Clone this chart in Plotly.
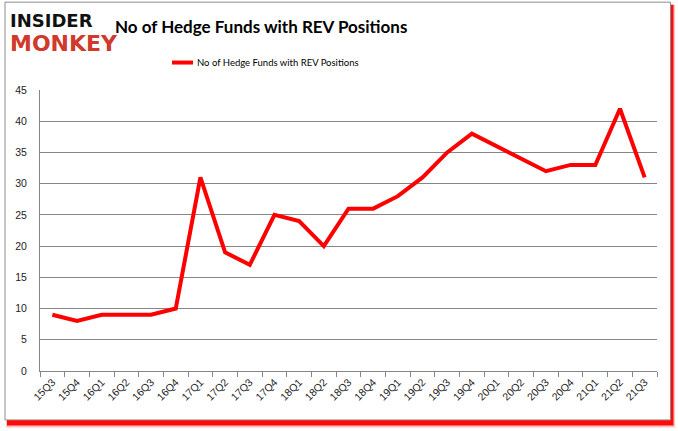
import plotly.graph_objects as go

quarters = ["15Q3","15Q4","16Q1","16Q2","16Q3","16Q4","17Q1","17Q2","17Q3","17Q4",
            "18Q1","18Q2","18Q3","18Q4","19Q1","19Q2","19Q3","19Q4","20Q1","20Q2",
            "20Q3","20Q4","21Q1","21Q2","21Q3"]
funds = [9, 8, 9, 9, 9, 10, 31, 19, 17, 25, 24, 20, 26, 26, 28, 31, 35, 38, 36, 34,
         32, 33, 33, 42, 31]
y_ticks = [0, 5, 10, 15, 20, 25, 30, 35, 40, 45]

series_name = "No of Hedge Funds with REV Positions"
title_text = "No of Hedge Funds with REV Positions"

# plot area in pixels
L, R, T, B = 40, 657, 89.5, 371
W, H = 678, 431

def px(x):
    return (x - L) / (R - L)

def py(y):
    return (B - y) / (B - T)

fig = go.Figure()
fig.add_trace(go.Scatter(
    x=quarters, y=funds, mode="lines", name=series_name,
    line=dict(color="#ff0000", width=4), showlegend=False,
))

shapes = [
    # soft red shadow (outer, faint)
    dict(type="rect", xref="paper", yref="paper", layer="below",
         x0=px(6), x1=px(675), y0=py(4), y1=py(427.5),
         fillcolor="rgba(255,80,80,0.35)", line=dict(width=0)),
    # red shadow (core)
    dict(type="rect", xref="paper", yref="paper", layer="below",
         x0=px(7), x1=px(673.5), y0=py(4), y1=py(425.5),
         fillcolor="rgba(255,0,0,0.95)", line=dict(width=0)),
    # chart frame
    dict(type="rect", xref="paper", yref="paper", layer="below",
         x0=px(5), x1=px(670.5), y0=py(1.5), y1=py(420),
         fillcolor="white", line=dict(color="#8c8c8c", width=1)),
    # legend sample
    dict(type="line", xref="paper", yref="paper",
         x0=px(172), x1=px(193), y0=py(62), y1=py(62),
         line=dict(color="#ff0000", width=4)),
]

annotations = [
    dict(text="<b>INSIDER</b>", xref="paper", yref="paper", x=px(8), y=py(20),
         xanchor="left", yanchor="middle", showarrow=False,
         font=dict(family="DejaVu Sans", size=18, color="#111111")),
    dict(text="<b>MONKEY</b>", xref="paper", yref="paper", x=px(8), y=py(43),
         xanchor="left", yanchor="middle", showarrow=False,
         font=dict(family="DejaVu Sans", size=22, color="#d0392b")),
    dict(text="<b>" + title_text + "</b>", xref="paper", yref="paper", x=px(261), y=py(26),
         xanchor="center", yanchor="middle", showarrow=False,
         font=dict(family="Lato", size=17, color="#000000")),
    dict(text=series_name, xref="paper", yref="paper", x=px(195), y=py(62),
         xanchor="left", yanchor="middle", showarrow=False,
         font=dict(family="Lato", size=9.5, color="#000000")),
]

fig.update_layout(
    width=W, height=H,
    margin=dict(l=L, r=W - R, t=T, b=H - B, pad=0, autoexpand=False),
    paper_bgcolor="white", plot_bgcolor="rgba(0,0,0,0)",
    shapes=shapes, annotations=annotations, showlegend=False,
)
fig.update_xaxes(
    type="category", range=[-0.5, len(quarters) - 0.5], automargin=False,
    tickson="boundaries", ticks="outside", ticklen=5, tickcolor="#868686",
    showline=True, linecolor="#868686", linewidth=1, showgrid=False,
    tickangle=-45, tickfont=dict(family="Liberation Sans", size=10.5, color="#222222"),
)
fig.update_yaxes(
    range=[0, 45], tickvals=y_ticks, showgrid=True, gridcolor="#868686", gridwidth=1,
    showline=True, linecolor="#868686", linewidth=1, ticks="",
    ticklabelstandoff=10, zeroline=False, automargin=False,
    tickfont=dict(family="Liberation Sans", size=10.5, color="#222222"),
)

fig.write_html("out.html", config={"displayModeBar": False},
               post_script="document.body.style.margin='0';document.body.style.padding='0';")
